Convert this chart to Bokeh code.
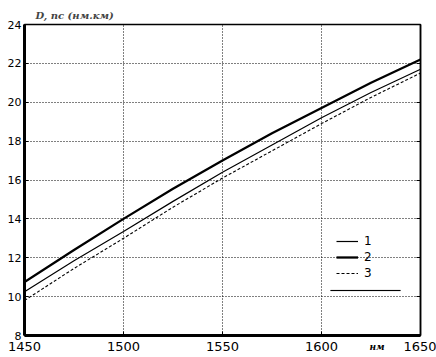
import math
from bokeh.plotting import figure
from bokeh.models import (Legend, LegendItem, LinearAxis, BoxAnnotation,
                          FixedTicker, Range1d)
from bokeh.embed import file_html
from bokeh.resources import INLINE

# data
wavelength = [1450, 1475, 1500, 1525, 1550, 1575, 1600, 1625, 1650]
curve1 = [10.25, 11.85, 13.35, 14.9, 16.4, 17.8, 19.2, 20.5, 21.7]
curve2 = [10.75, 12.4, 14.0, 15.55, 17.0, 18.4, 19.7, 21.0, 22.2]
curve3 = [9.8, 11.45, 13.0, 14.6, 16.1, 17.5, 18.9, 20.25, 21.5]
x_ticks = [1450, 1500, 1550, 1600, 1650]
y_ticks = [8, 10, 12, 14, 16, 18, 20, 22, 24]
series_names = ["1", "2", "3"]
x_unit = "нм"
x_unit_pos = 1628
y_title = "D, пс (нм.км)"

p = figure(width=436, height=357, output_backend="svg", toolbar_location=None,
           x_range=Range1d(1450, 1650), y_range=Range1d(8, 24),
           min_border_left=24, min_border_right=16, min_border_top=24, min_border_bottom=22)
p.background_fill_color = "white"
p.border_fill_color = "white"
p.outline_line_color = "black"
p.outline_line_width = 1.5

p.title.text = y_title
p.title.text_font = "DejaVu Serif"
p.title.text_font_style = "bold italic"
p.title.text_font_size = "10px"
p.title.align = "left"
p.title.offset = 11
p.title.standoff = 8

for ax in (p.xaxis, p.yaxis):
    ax.axis_line_width = 3
    ax.axis_line_color = "black"
    ax.major_tick_in = 4
    ax.major_tick_out = 0
    ax.minor_tick_line_color = None
    ax.major_label_text_font = "DejaVu Sans"
    ax.major_label_text_color = "black"
p.xaxis.ticker = FixedTicker(ticks=x_ticks)
p.yaxis.ticker = FixedTicker(ticks=y_ticks)
p.xaxis.major_label_text_font_size = "13px"
p.yaxis.major_label_text_font_size = "11px"
p.xaxis.major_label_standoff = 6
p.yaxis.major_label_standoff = 3

right_ax = LinearAxis(ticker=FixedTicker(ticks=y_ticks), major_tick_in=4, major_tick_out=0,
                      minor_tick_line_color=None, major_label_text_font_size="0px",
                      axis_line_width=1.5, major_label_standoff=0)
p.add_layout(right_ax, "right")

# unit of the x axis: an extra, line-less axis whose only label sits beside the tick labels
unit_ax = LinearAxis(ticker=FixedTicker(ticks=[x_unit_pos]),
                     major_label_overrides={x_unit_pos: x_unit},
                     axis_line_color=None, major_tick_line_color=None,
                     minor_tick_line_color=None, major_tick_in=0, major_tick_out=0,
                     major_label_standoff=-12, major_label_text_font="DejaVu Serif",
                     major_label_text_font_style="bold italic",
                     major_label_text_font_size="9px", major_label_text_color="black")
p.add_layout(unit_ax, "below")

p.xgrid.ticker = FixedTicker(ticks=x_ticks)
p.ygrid.ticker = FixedTicker(ticks=y_ticks)
p.grid.grid_line_color = "black"
p.grid.grid_line_dash = "1 2"
p.grid.grid_line_width = 1

r2 = p.line(wavelength, curve2, line_color="black", line_width=2.3)
r1 = p.line(wavelength, curve1, line_color="black", line_width=1.2)
r3 = p.line(wavelength, curve3, line_color="black", line_width=1.1, line_dash="3 2")
# legend-only marker for series 1 (small vertical tick in the middle of its line)
r1_mark = p.scatter(x=[], y=[], marker="dash", angle=math.pi / 2, size=4,
                    line_color="black", line_width=1.2)

legend = Legend(items=[LegendItem(label=series_names[0], renderers=[r1, r1_mark]),
                       LegendItem(label=series_names[1], renderers=[r2]),
                       LegendItem(label=series_names[2], renderers=[r3])],
                location=(312, 55), border_line_color=None, background_fill_alpha=0,
                glyph_width=22, glyph_height=14, label_height=14, spacing=2,
                padding=4, margin=0, label_text_font="DejaVu Sans",
                label_text_color="black",
                label_text_font_size="12px", label_standoff=6)
p.add_layout(legend, "center")

p.add_layout(BoxAnnotation(left=306, right=376, bottom=44.5, top=45.5,
                           left_units="screen", right_units="screen",
                           bottom_units="screen", top_units="screen",
                           fill_color="black", fill_alpha=1, line_color="black",
                           line_width=0.5))

open("out.html", "w").write(file_html(p, INLINE))
